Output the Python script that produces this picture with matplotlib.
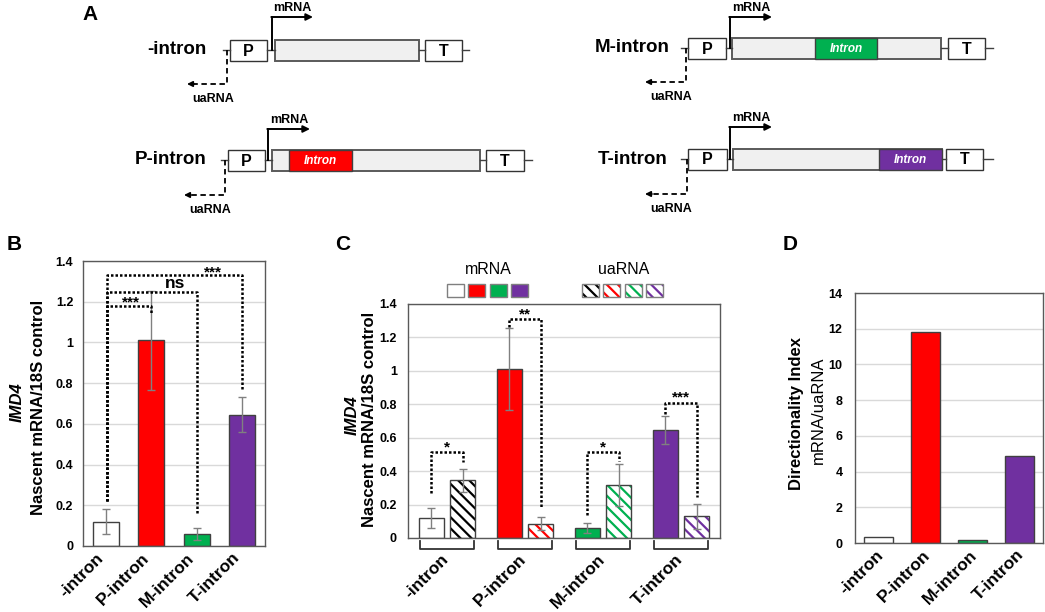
import matplotlib
matplotlib.use('Agg')
import matplotlib.pyplot as plt
from matplotlib.patches import Rectangle
from matplotlib.transforms import ScaledTranslation
import numpy as np

plt.rcParams['font.family'] = ['Liberation Sans', 'DejaVu Sans']
plt.rcParams['font.weight'] = 'bold'
plt.rcParams['hatch.linewidth'] = 1.6

W, H = 1045, 612

constructs = ['-intron', 'P-intron', 'M-intron', 'T-intron']
colors = ['white', '#ff0000', '#00b050', '#7030a0']
hatch_colors = ['black', '#ff0000', '#00b050', '#7030a0']

mrna = [0.12, 1.01, 0.06, 0.645]
mrna_err = [0.06, 0.245, 0.03, 0.085]
uarna = [0.345, 0.085, 0.315, 0.13]
uarna_err = [0.07, 0.04, 0.125, 0.075]
direction_index = [0.35, 11.8, 0.19, 4.87]

# panel B brackets: label, right bar, height, lower end of right leg, text x
sig_b = [('***', 1, 1.18, 1.14, 0.55), ('ns', 2, 1.25, 0.15, 1.52), ('***', 3, 1.33, 0.77, 2.36)]
# panel C brackets: label, group, height, left leg end, right leg end
sig_c = [('*', 0, 0.515, 0.27, 0.455), ('**', 1, 1.31, 1.26, 0.18),
         ('*', 2, 0.515, 0.14, 0.46), ('***', 3, 0.81, 0.74, 0.245)]

fig = plt.figure(figsize=(W / 100, H / 100), dpi=100)


def px_axes(x0, y0, x1, y1):
    return fig.add_axes([x0 / W, 1 - y1 / H, (x1 - x0) / W, (y1 - y0) / H])


# ---- panel A: construct diagrams, drawn in pixel space ----
axA = fig.add_axes([0, 0, 1, 1])
axA.set_xlim(0, W)
axA.set_ylim(H, 0)
axA.axis('off')

# label right, centre y, line start, P box, gene box, intron box, T box, line end,
# mRNA arrow x/top/end, uaRNA arrow x/bottom/end
rows = [
    dict(lx=207, yc=50, s=223, p=(230, 267), g=(275, 419), i=None, t=(425, 462), e=469,
         mx=272, mt=17, me=313, ux=227, uy=84, ue=187),
    dict(lx=207, yc=160, s=221, p=(228, 265), g=(272, 480), i=(289, 352), t=(486, 524), e=532,
         mx=268, mt=129, me=310, ux=225, uy=195, ue=184),
    dict(lx=670, yc=48, s=681, p=(688, 726), g=(732, 941), i=(815, 877), t=(948, 985), e=993,
         mx=730, mt=17, me=772, ux=686, uy=82, ue=645),
    dict(lx=668, yc=159, s=681, p=(688, 727), g=(733, 942), i=(879, 942), t=(946, 983), e=993,
         mx=730, mt=127, me=772, ux=687, uy=194, ue=645),
]

for name, col, r in zip(constructs, colors, rows):
    yc, hh = r['yc'], 10.5
    axA.text(r['lx'], yc, name, fontsize=13.5, ha='right', va='center')
    for a, b in [(r['s'], r['p'][0]), (r['p'][1], r['g'][0]), (r['g'][1], r['t'][0]), (r['t'][1], r['e'])]:
        axA.plot([a, b], [yc, yc], color='#404040', lw=1)
    axA.add_patch(Rectangle((r['p'][0], yc - hh), r['p'][1] - r['p'][0], 2 * hh,
                            facecolor='white', edgecolor='#333333', lw=1))
    axA.text(sum(r['p']) / 2, yc + 1, 'P', fontsize=11.5, ha='center', va='center')
    axA.add_patch(Rectangle((r['g'][0], yc - hh), r['g'][1] - r['g'][0], 2 * hh,
                            facecolor='#f0f0f0', edgecolor='#5a5a5a', lw=1.4))
    if r['i'] is not None:
        axA.add_patch(Rectangle((r['i'][0], yc - hh), r['i'][1] - r['i'][0], 2 * hh,
                                facecolor=col, edgecolor='#404040', lw=1))
        axA.text(sum(r['i']) / 2, yc + 1, 'Intron', fontsize=8.5, style='italic',
                 color='white', ha='center', va='center')
    axA.add_patch(Rectangle((r['t'][0], yc - hh), r['t'][1] - r['t'][0], 2 * hh,
                            facecolor='white', edgecolor='#333333', lw=1))
    axA.text(sum(r['t']) / 2, yc + 1, 'T', fontsize=11.5, ha='center', va='center')
    # mRNA arrow
    axA.plot([r['mx'], r['mx']], [yc, r['mt']], color='black', lw=1.4)
    axA.annotate('', xy=(r['me'], r['mt']), xytext=(r['mx'] - 0.7, r['mt']),
                 arrowprops=dict(arrowstyle='-|>', color='black', lw=1.4,
                                 mutation_scale=10, shrinkA=0, shrinkB=0))
    axA.text((r['mx'] + r['me']) / 2, r['mt'] - 9, 'mRNA', fontsize=9, ha='center', va='center')
    # uaRNA arrow
    axA.plot([r['ux'], r['ux'], r['ue'] + 6], [yc, r['uy'], r['uy']], color='black',
             lw=1.3, ls=(0, (3, 2)))
    axA.annotate('', xy=(r['ue'], r['uy']), xytext=(r['ue'] + 7, r['uy']),
                 arrowprops=dict(arrowstyle='-|>', color='black', lw=1.2,
                                 mutation_scale=8, shrinkA=0, shrinkB=0))
    axA.text(r['ue'] + 26, r['uy'] + 15, 'uaRNA', fontsize=9, ha='center', va='center')

for letter, x, y in [('A', 90, 14), ('B', 14, 245), ('C', 343, 245), ('D', 790, 245)]:
    axA.text(x, y, letter, fontsize=15, ha='center', va='center')

# legend of panel C
axA.text(488, 270, 'mRNA', fontsize=11.5, fontweight='normal', ha='center', va='center')
axA.text(624, 270, 'uaRNA', fontsize=11.5, fontweight='normal', ha='center', va='center')
for k in range(4):
    axA.add_patch(Rectangle((447 + 21.3 * k, 284), 17, 13, facecolor=colors[k],
                            edgecolor='#7f7f7f', lw=1))
    axA.add_patch(Rectangle((582 + 21.3 * k, 284), 17, 13, facecolor='white',
                            edgecolor=hatch_colors[k], hatch='\\\\\\', lw=0))
    axA.add_patch(Rectangle((582 + 21.3 * k, 284), 17, 13, fill=False,
                            edgecolor='#7f7f7f', lw=1))


def style(ax, ymax, step, pad):
    ax.set_xlim(-0.5, 3.5)
    ax.set_ylim(0, ymax)
    ax.set_yticks(np.arange(0, ymax + step / 2, step))
    ax.yaxis.set_major_formatter(lambda v, p: f'{v:g}')
    ax.grid(axis='y', color='#d9d9d9', lw=1)
    ax.set_axisbelow(True)
    for s in ax.spines.values():
        s.set_color('#595959')
        s.set_linewidth(1)
    ax.tick_params(axis='y', length=0, pad=pad, labelsize=9)
    ax.tick_params(axis='x', length=0)


def xlabels(ax, pad, dx):
    ax.set_xticks(range(4))
    ax.set_xticklabels(constructs, rotation=45, ha='right', va='top',
                       rotation_mode='anchor', fontsize=12.5)
    ax.tick_params(axis='x', pad=pad)
    shift = ScaledTranslation(dx / 100, 0, fig.dpi_scale_trans)
    for lab in ax.get_xticklabels():
        lab.set_transform(lab.get_transform() + shift)


err_kw = dict(ecolor='#808080', elinewidth=1, capsize=3, capthick=1)
dots = (0, (1, 0.8))
x = np.arange(4)

# ---- panel B ----
axB = px_axes(83, 261, 265, 546)
style(axB, 1.4, 0.2, 7)
axB.bar(x, mrna, 0.57, color=colors, edgecolor='#404040', lw=1, yerr=mrna_err, error_kw=err_kw)
xlabels(axB, 3, -10)
for lab, right, h, rend, tx in sig_b:
    axB.plot([0.02, 0.02, right, right], [0.22, h, h, rend], color='black', lw=1.8, ls=dots,
             clip_on=False)
    if lab == 'ns':
        axB.text(tx, h + 0.018, lab, fontsize=12.5, ha='center', va='baseline')
    else:
        axB.text(tx, h - 0.004, lab, fontsize=11, ha='center', va='baseline')
fig.text(17 / W, 1 - 402 / H, 'IMD4', style='italic', fontsize=12, rotation=90,
         ha='center', va='center')
fig.text(39 / W, 1 - 407 / H, 'Nascent mRNA/18S control', fontsize=12, rotation=90,
         ha='center', va='center')

# ---- panel C ----
axC = px_axes(408, 304, 720, 538)
style(axC, 1.4, 0.2, 8)
axC.bar(x - 0.2, mrna, 0.32, color=colors, edgecolor='#404040', lw=1, yerr=mrna_err,
        error_kw=err_kw)
axC.bar(x + 0.2, uarna, 0.32, color='white', edgecolor=hatch_colors, hatch='\\\\\\', lw=0)
axC.bar(x + 0.2, uarna, 0.32, fill=False, edgecolor='#404040', lw=1, yerr=uarna_err,
        error_kw=err_kw)
xlabels(axC, 10, -6)
for i in x:
    axC.plot([i - 0.34, i - 0.34, i + 0.34, i + 0.34], [-0.018, -0.066, -0.066, -0.018],
             color='#333333', lw=1.3, clip_on=False)
for lab, g, h, lend, rend in sig_c:
    axC.plot([g - 0.2, g - 0.2, g + 0.2, g + 0.2], [lend, h, h, rend], color='black', lw=1.8,
             ls=dots)
    axC.text(g, h + 0.004, lab, fontsize=11, ha='center', va='baseline')
fig.text(352 / W, 1 - 415 / H, 'IMD4', style='italic', fontsize=12, rotation=90,
         ha='center', va='center')
fig.text(370 / W, 1 - 419 / H, 'Nascent mRNA/18S control', fontsize=12, rotation=90,
         ha='center', va='center')

# ---- panel D ----
axD = px_axes(855, 293, 1043, 543)
style(axD, 14, 2, 9)
axD.bar(x, direction_index, 0.6, color=colors, edgecolor='#404040', lw=1)
xlabels(axD, 3, -3)
fig.text(796 / W, 1 - 413 / H, 'Directionality Index', fontsize=12, rotation=90,
         ha='center', va='center')
fig.text(818 / W, 1 - 410 / H, 'mRNA/uaRNA', fontsize=12, fontweight='normal', rotation=90,
         ha='center', va='center')

fig.savefig('out.png', dpi=100)
